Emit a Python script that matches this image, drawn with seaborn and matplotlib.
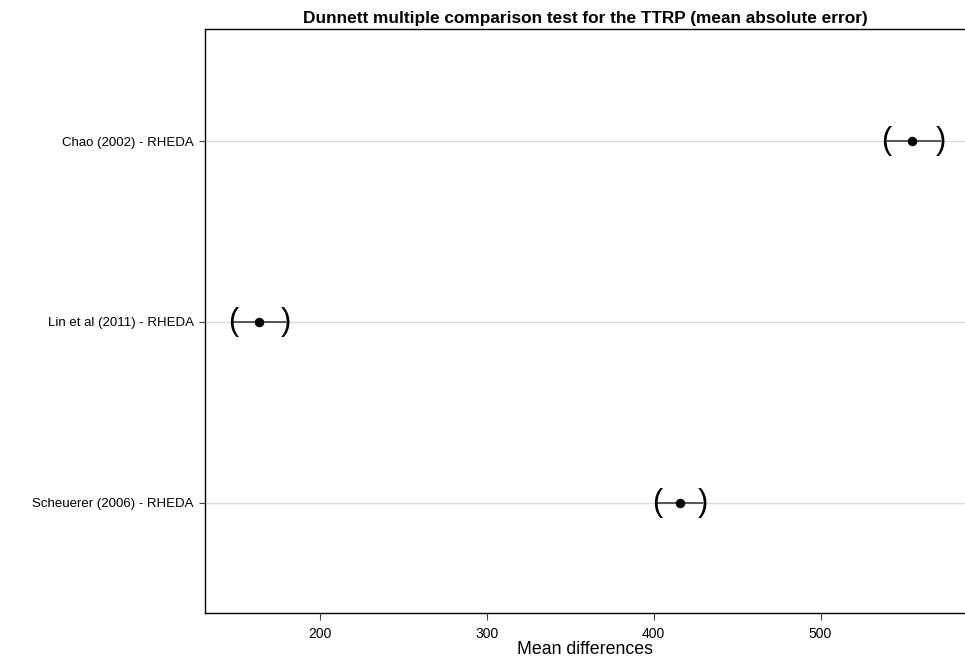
import matplotlib
matplotlib.use("Agg")
import matplotlib.pyplot as plt
import seaborn as sns
import pandas as pd

comparisons = ["Chao (2002) - RHEDA", "Lin et al (2011) - RHEDA", "Scheuerer (2006) - RHEDA"]
mean_diff = [554.8, 163.8, 415.9]
lower = [539.5, 148.2, 402.0]
upper = [571.9, 179.9, 429.6]
x_ticks = [200, 300, 400, 500]

df = pd.DataFrame({"comparison": comparisons, "diff": mean_diff, "lwr": lower, "upr": upper})

sns.set_theme(style="white")
plt.rcParams["font.family"] = ["Liberation Sans", "DejaVu Sans"]
plt.rcParams["text.color"] = "black"
plt.rcParams["xtick.color"] = "black"
plt.rcParams["ytick.color"] = "black"
plt.rcParams["axes.labelcolor"] = "black"

fig = plt.figure(figsize=(9.65, 6.58), dpi=100)
ax = fig.add_axes([0.2124, 0.0684, 0.7876, 0.8876])

ypos = list(range(len(comparisons)))
for y in ypos:
    ax.axhline(y, color="#dcdcdc", lw=1.0, zorder=0)

ax.hlines(ypos, df["lwr"], df["upr"], color="#555555", lw=1.4, zorder=2)
sns.scatterplot(x=df["diff"], y=ypos, color="black", s=40, edgecolor="black", zorder=3, ax=ax, legend=False)
for y, lo, hi in zip(ypos, df["lwr"], df["upr"]):
    ax.text(lo, y, "(", ha="center", va="center", fontsize=22, color="black", zorder=4)
    ax.text(hi, y, ")", ha="center", va="center", fontsize=22, color="black", zorder=4)

ax.set_xlim(131.4, 586.5)
ax.set_ylim(2.61, -0.62)
ax.set_yticks(ypos)
ax.set_yticklabels(comparisons, fontsize=9.5)
ax.set_xticks(x_ticks)
ax.set_xticklabels([str(t) for t in x_ticks], fontsize=10)
ax.tick_params(axis="x", direction="out", length=5, width=0.8, color="#444444", pad=5, bottom=True)
ax.tick_params(axis="y", direction="out", length=4, width=0.8, color="#444444", pad=4, left=True)
ax.set_xlabel("Mean differences", fontsize=12.8, labelpad=0)
ax.set_ylabel("")
ax.set_title("Dunnett multiple comparison test for the TTRP (mean absolute error)", fontsize=12.4, fontweight="bold", pad=4)
for name, s in ax.spines.items():
    s.set_color("black")
    s.set_linewidth(1.0)
ax.spines["right"].set_visible(False)

fig.savefig("out.png", dpi=100)
